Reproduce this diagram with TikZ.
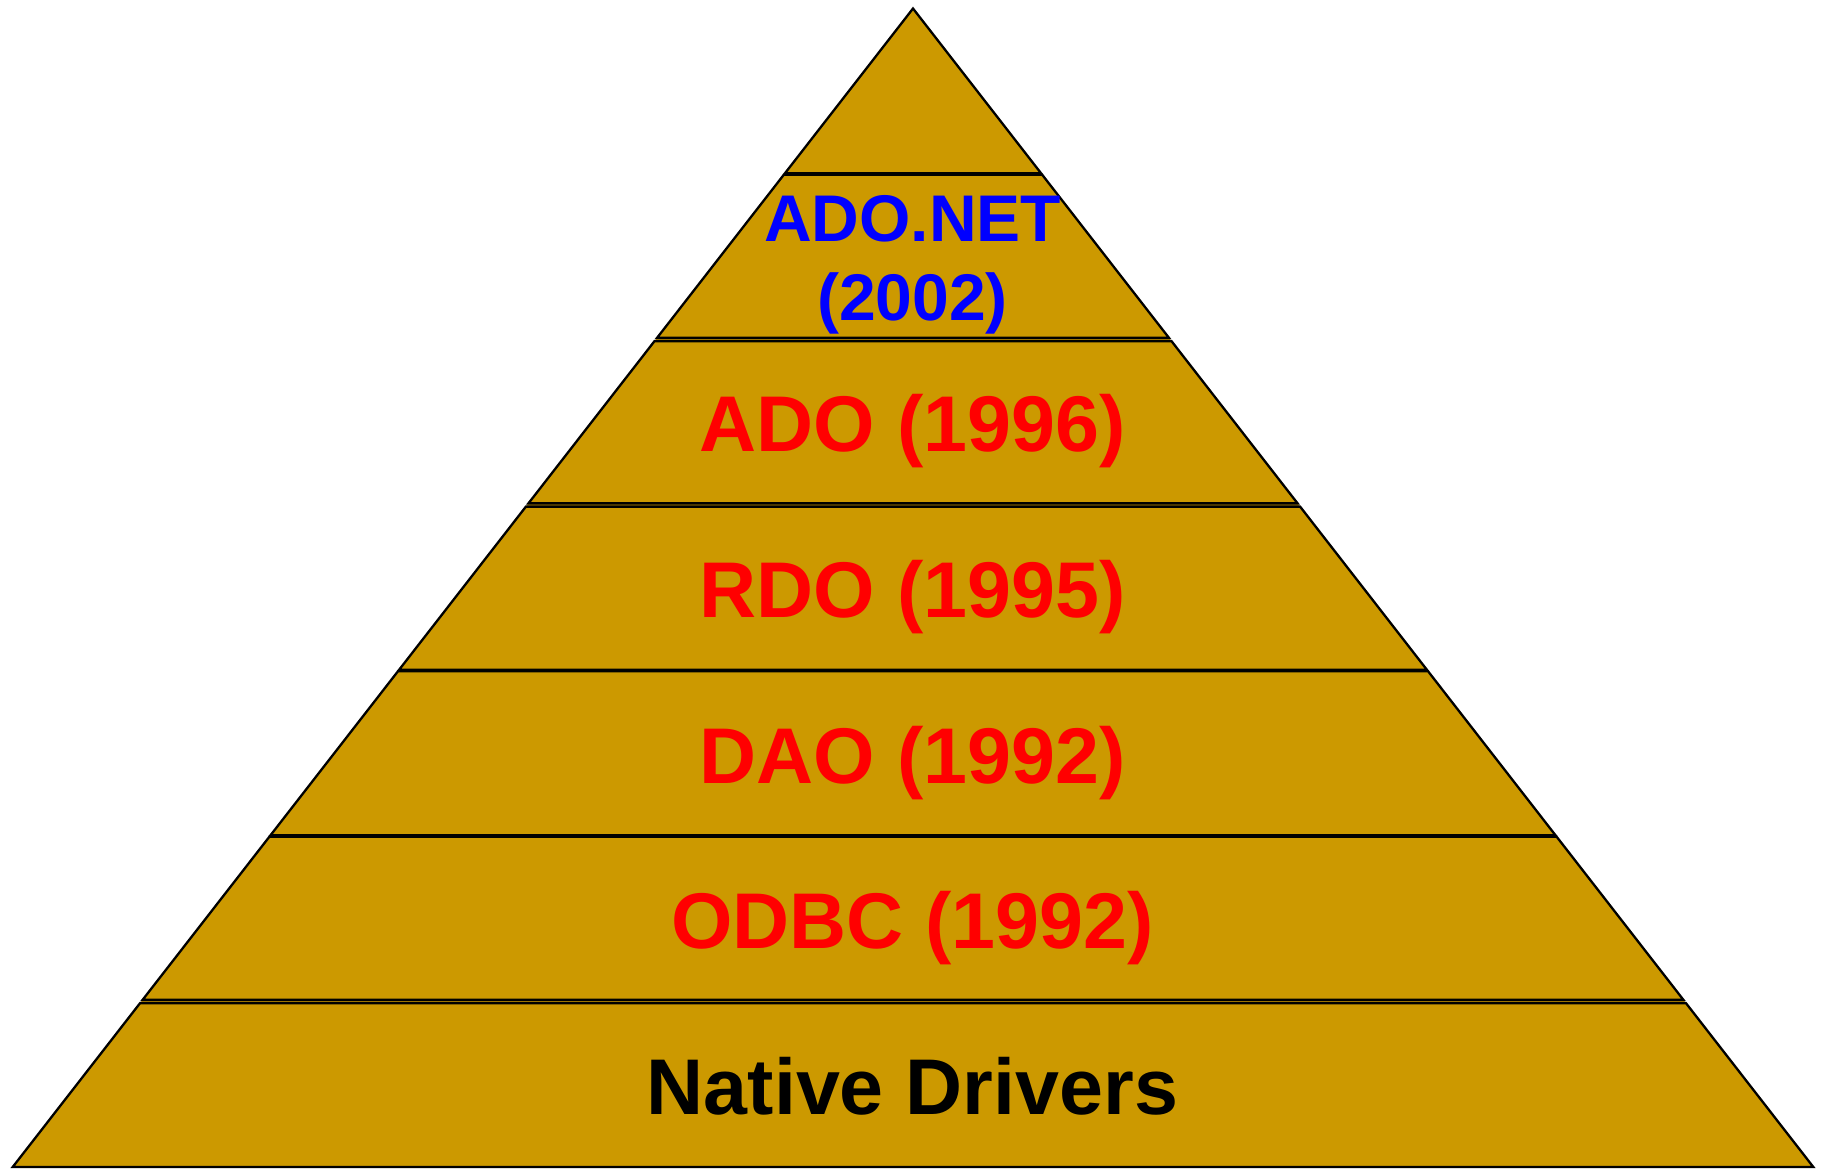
\documentclass[tikz,border=0pt]{standalone}
\usepackage{fontspec}
\setmainfont{Liberation Sans}
\usetikzlibrary{calc}
\definecolor{gold}{RGB}{204,153,0}
\definecolor{layerred}{RGB}{255,0,0}
\definecolor{layerblue}{RGB}{0,0,255}
\begin{document}
\begin{tikzpicture}[x=1pt,y=-1pt,
  band/.style={draw=black, line width=2.3pt, line join=miter},
  lbl/.style={font=\fontsize{79}{79}\selectfont\bfseries, anchor=base, inner sep=0pt},
  lblsmall/.style={font=\fontsize{66}{66}\selectfont\bfseries, anchor=base, inner sep=0pt}]
\useasboundingbox (0,0) rectangle (1825,1169);
% outer corners of the pyramid
\coordinate (apex) at (913,8.5);
\coordinate (bl) at (12.7,1167);
\coordinate (br) at (1813.3,1167);
\fill[gold] (apex) -- (bl) -- (br) -- cycle;
% half-gap between neighbouring layers at each boundary (fraction of the height)
\def\gapA{0.0007}\def\gapB{0.0014}\def\gapC{0.0014}
\def\gapD{0.0007}\def\gapE{0.0007}\def\gapF{0.0014}
% top triangle
\draw[band] (apex) -- ($(apex)!{1/7-\gapA}!(bl)$) -- ($(apex)!{1/7-\gapA}!(br)$) -- cycle;
% stacked trapezoid layers: {index/top gap/bottom gap}
\foreach \k/\ga/\gb in {1/\gapA/\gapB, 2/\gapB/\gapC, 3/\gapC/\gapD, 4/\gapD/\gapE, 5/\gapE/\gapF, 6/\gapF/0}{
  \pgfmathsetmacro\ta{\k/7+\ga}
  \pgfmathsetmacro\tb{(\k+1)/7-\gb}
  \draw[band] ($(apex)!\ta!(bl)$) -- ($(apex)!\tb!(bl)$) -- ($(apex)!\tb!(br)$) -- ($(apex)!\ta!(br)$) -- cycle;
}
% layer labels
\node[lblsmall, text=layerblue] (adonet) at (912.5,241) {ADO.NET};
\node[lblsmall, text=layerblue] (adonetyear) at (912.5,320) {(2002)};
\node[lbl, text=layerred] (ado) at (912.5,451.5) {ADO (1996)};
\node[lbl, text=layerred] (rdo) at (912.5,617.5) {RDO (1995)};
\node[lbl, text=layerred] (dao) at (912.5,783) {DAO (1992)};
\node[lbl, text=layerred] (odbc) at (912.5,948.5) {ODBC (1992)};
\node[lbl, text=black] (native) at (912.5,1114.5) {Native Drivers};
\end{tikzpicture}
\end{document}
